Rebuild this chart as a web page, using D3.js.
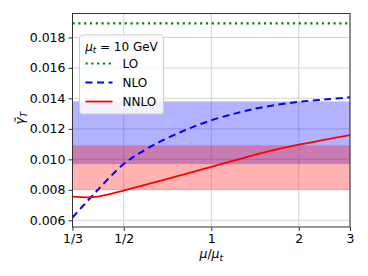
<!DOCTYPE html>
<html>
<head>
<meta charset="UTF-8">
<script src="https://d3js.org/d3.v7.min.js"></script>
<style>
    body { margin: 0; background: #fff; }
    svg text { font-family: 'DejaVu Sans', sans-serif; fill: #000; }
</style>
</head>
<body>
<div id="chart"></div>
<script>
    // scale ratio mu/mu_t
    const muPoints = [1/3, 0.4, 0.5, 0.6, 0.8, 1, 1.25, 1.5, 2, 2.5, 3];
    const nloValues = [0.00618, 0.00784, 0.00969, 0.01069, 0.01186, 0.01256, 0.01308, 0.01342, 0.01377, 0.01394, 0.01407];
    const nnloValues = [0.00755, 0.00753, 0.00795, 0.00835, 0.00900, 0.00951, 0.01002, 0.01043, 0.01096, 0.01131, 0.01159];
    const loValue = 0.01892;
    const nloBand = [0.00969, 0.0138];
    const nnloBand = [0.0080, 0.01092];
    const xTicks = [1/3, 1/2, 1, 2, 3];
    const xTickLabels = ["1/3", "1/2", "1", "2", "3"];
    const yTicks = [0.006, 0.008, 0.010, 0.012, 0.014, 0.016, 0.018];

    const width = 368, height = 276;
    const margin = {left: 72.5, right: 18, top: 13.5, bottom: 49};

    const svg = d3.select("#chart").append("svg")
        .attr("width", width)
        .attr("height", height);

    const x = d3.scaleLog()
        .domain([1/3, 3])
        .range([margin.left, width - margin.right]);
    const y = d3.scaleLinear()
        .domain([0.00556, 0.01957])
        .range([height - margin.bottom, margin.top]);

    const x0 = x.range()[0], x1 = x.range()[1];
    const y0 = y.range()[0], y1 = y.range()[1];

    // grid
    svg.append("g").selectAll("line.gx")
        .data(xTicks).enter().append("line")
        .attr("x1", d => x(d)).attr("x2", d => x(d))
        .attr("y1", y1).attr("y2", y0)
        .attr("stroke", "#d4d4d4").attr("stroke-width", 1);
    svg.append("g").selectAll("line.gy")
        .data(yTicks).enter().append("line")
        .attr("x1", x0).attr("x2", x1)
        .attr("y1", d => y(d)).attr("y2", d => y(d))
        .attr("stroke", "#d4d4d4").attr("stroke-width", 1);

    // bands
    svg.append("rect")
        .attr("x", x0).attr("width", x1 - x0)
        .attr("y", y(nloBand[1])).attr("height", y(nloBand[0]) - y(nloBand[1]))
        .attr("fill", "blue").attr("fill-opacity", 0.3);
    svg.append("rect")
        .attr("x", x0).attr("width", x1 - x0)
        .attr("y", y(nnloBand[1])).attr("height", y(nnloBand[0]) - y(nnloBand[1]))
        .attr("fill", "red").attr("fill-opacity", 0.3);

    svg.append("clipPath").attr("id", "clip")
        .append("rect").attr("x", x0).attr("y", y1)
        .attr("width", x1 - x0).attr("height", y0 - y1);

    const line = d3.line()
        .x(d => x(d[0]))
        .y(d => y(d[1]))
        .curve(d3.curveCatmullRom.alpha(0.5));

    const plot = svg.append("g").attr("clip-path", "url(#clip)");

    plot.append("line")
        .attr("x1", x0).attr("x2", x1)
        .attr("y1", y(loValue)).attr("y2", y(loValue))
        .attr("stroke", "#008000").attr("stroke-width", 2.2)
        .attr("stroke-dasharray", "2.2,3.6");

    plot.append("path")
        .datum(muPoints.map((m, i) => [m, nloValues[i]]))
        .attr("d", line)
        .attr("fill", "none").attr("stroke", "blue")
        .attr("stroke-width", 2).attr("stroke-dasharray", "7,4.5");

    plot.append("path")
        .datum(muPoints.map((m, i) => [m, nnloValues[i]]))
        .attr("d", line)
        .attr("fill", "none").attr("stroke", "red")
        .attr("stroke-width", 1.8);

    // frame
    svg.append("rect")
        .attr("x", x0).attr("y", y1)
        .attr("width", x1 - x0).attr("height", y0 - y1)
        .attr("fill", "none").attr("stroke", "#333").attr("stroke-width", 1);

    // axes
    const xAxis = d3.axisBottom(x)
        .tickValues(xTicks)
        .tickFormat((d, i) => xTickLabels[i])
        .tickSize(4).tickPadding(3);
    const gx = svg.append("g")
        .attr("transform", `translate(0,${y0})`)
        .call(xAxis);
    const yAxis = d3.axisLeft(y)
        .tickValues(yTicks)
        .tickFormat(d3.format(".3f"))
        .tickSize(4).tickPadding(3);
    const gy = svg.append("g")
        .attr("transform", `translate(${x0},0)`)
        .call(yAxis);
    [gx, gy].forEach(g => {
        g.select(".domain").remove();
        g.selectAll(".tick line").attr("stroke", "#333");
        g.selectAll(".tick text")
            .attr("font-family", "'DejaVu Sans', sans-serif")
            .attr("font-size", 12.5).attr("fill", "#000");
    });

    // axis labels
    const xl = svg.append("text")
        .attr("x", x(1)).attr("y", 258)
        .attr("text-anchor", "middle")
        .attr("font-size", 12.5);
    xl.append("tspan").attr("font-style", "italic").text("μ");
    xl.append("tspan").text("/");
    xl.append("tspan").attr("font-style", "italic").text("μ");
    xl.append("tspan").attr("font-style", "italic").attr("font-size", 9).attr("dy", 2.5).text("t");

    const yl = svg.append("text")
        .attr("transform", `translate(24,${(y0 + y1) / 2 - 2}) rotate(-90)`)
        .attr("text-anchor", "middle")
        .attr("font-size", 12.5);
    yl.append("tspan").attr("font-style", "italic").text("γ\u0303");
    yl.append("tspan").attr("font-style", "italic").attr("font-size", 9).attr("dy", 2.5).text("T");

    // legend
    const lg = svg.append("g").attr("transform", "translate(79.5,35)");
    lg.append("rect")
        .attr("width", 84).attr("height", 79).attr("rx", 3)
        .attr("fill", "#fff").attr("fill-opacity", 0.8)
        .attr("stroke", "#cccccc").attr("stroke-width", 1);
    const lt = lg.append("text").attr("x", 42).attr("y", 15.5)
        .attr("text-anchor", "middle").attr("font-size", 12);
    lt.append("tspan").attr("font-style", "italic").text("μ");
    lt.append("tspan").attr("font-style", "italic").attr("font-size", 8.5).attr("dy", 2.5).text("t");
    lt.append("tspan").attr("dy", -2.5).text(" = 10 GeV");

    const items = [
        {name: "LO", color: "#008000", dash: "2.2,3.6", w: 2.2},
        {name: "NLO", color: "blue", dash: "7,4.5", w: 2},
        {name: "NNLO", color: "red", dash: null, w: 1.8}
    ];
    items.forEach((it, i) => {
        const yy = 28.5 + i * 19;
        lg.append("line")
            .attr("x1", 6).attr("x2", 33)
            .attr("y1", yy).attr("y2", yy)
            .attr("stroke", it.color).attr("stroke-width", it.w)
            .attr("stroke-dasharray", it.dash);
        lg.append("text").attr("x", 43).attr("y", yy + 4.5)
            .attr("font-size", 12).text(it.name);
    });
</script>
</body>
</html>
